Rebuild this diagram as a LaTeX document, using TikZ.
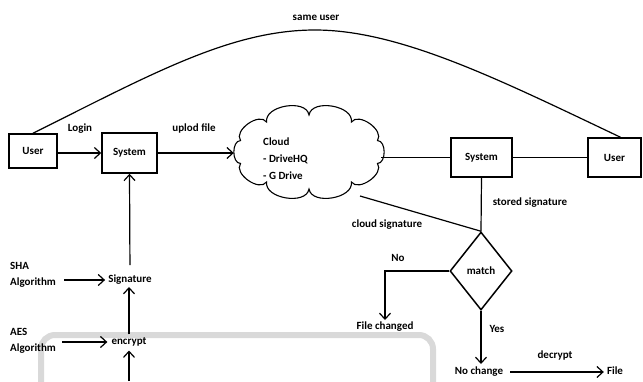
\documentclass[tikz,border=0pt]{standalone}
\usepackage{fontspec}
\setmainfont{Carlito}
\usetikzlibrary{arrows.meta,shapes.geometric}
\begin{document}
\begin{tikzpicture}[x=1pt,y=-1pt,
  font=\bfseries\fontsize{11}{13}\selectfont,
  box/.style={draw, line width=1.5pt, inner sep=0pt},
  conn/.style={line width=1.2pt},
  arr/.style={conn, -{Straight Barb[length=6pt,width=11pt,line width=1.2pt]}},
  lbl/.style={inner sep=0pt},
  frame/.style={draw=black!15, line width=6pt, rounded corners=14pt}]
\useasboundingbox (0,0) rectangle (643,381);

% faint page frame
\draw[frame] (41,390) -- (41,335) -- (433,335) -- (433,390);

% boxes
\node[box, minimum width=48pt, minimum height=34pt] (user1) at (33,151) {User};
\node[box, minimum width=55pt, minimum height=40pt] (sys1) at (129.5,153) {System};
\node[box, minimum width=61pt, minimum height=39pt] (sys2) at (481.5,157.5) {System};
\node[box, minimum width=53pt, minimum height=39pt] (user2) at (614.5,157.5) {User};

% cloud (outline of puffs, plus an invisible node for its anchors)
\node[ellipse, minimum width=148pt, minimum height=90pt, inner sep=0pt] (cloud) at (309,152) {};
\draw[conn, line width=1.1pt] ({309+72*cos(18)},{152-37*sin(18)})
  \foreach \i in {1,...,10} { to[bend right=90] ({309+72*cos(36*\i+18)},{152-37*sin(36*\i+18)}) } -- cycle;
\node[lbl, align=left, anchor=west, font=\bfseries\fontsize{11}{17}\selectfont] (cloudtxt) at (263,159) {Cloud\\- DriveHQ\\- G Drive};

\node[draw, diamond, line width=1.5pt, minimum width=62pt, minimum height=78pt, inner sep=0pt] (match) at (481,271) {match};

% labels
\node[lbl] (same) at (316,18) {same user};
\node[lbl] (login) at (80,129) {Login};
\node[lbl] (upload) at (194,128) {uplod file};
\node[lbl] (stored) at (530,203) {stored signature};
\node[lbl] (cloudsig) at (387,225) {cloud signature};
\node[lbl] (no) at (398,258) {No};
\node[lbl] (filechg) at (385,327) {File changed};
\node[lbl] (yes) at (497,329) {Yes};
\node[lbl] (nochg) at (479,372) {No change};
\node[lbl] (decrypt) at (555,355) {decrypt};
\node[lbl] (file) at (615,371) {File};
\node[lbl] (sig) at (130,280) {Signature};
\node[lbl, align=left, anchor=west, font=\bfseries\fontsize{11}{16}\selectfont] (sha) at (10,275) {SHA\\Algorithm};
\node[lbl] (enc) at (129,342) {encrypt};
\node[lbl, align=left, anchor=west, font=\bfseries\fontsize{11}{16}\selectfont] (aes) at (10,341) {AES\\Algorithm};

\coordinate (cs) at (360,196);
\coordinate (bot) at (129,381);
\coordinate (u2top) at ([xshift=6pt]user2.north);

% connectors
\draw[conn] (user1.north) .. controls (150,75) and (230,30) .. (315,30)
            .. controls (400,30) and (500,80) .. (u2top);
\draw[arr] (user1.east |- sys1.west) -- (sys1.west);
\draw[arr, shorten >=1pt] (sys1.east) -- (sys1.east -| cloud.west);
\draw[conn] ([xshift=-2pt]cloud.east |- sys2.west) -- (sys2.west);
\draw[conn] (sys2.east) -- (user2.west);
\draw[conn] (sys2.south) -- (match.north);
\draw[conn] (cs) -- (match.north);
\draw[arr, shorten >=2pt] (match.west) -- (match.west -| filechg.north) -- (filechg.north);
\draw[arr, shorten >=3pt] (match.south) -- (match.south |- nochg.north);
\draw[arr, shorten <=7pt, shorten >=3pt] (nochg.east) -- (nochg.east -| file.west);
\draw[arr, shorten <=8pt, shorten >=3pt] (sha.east |- sig.west) -- (sig.west);
\draw[arr, shorten <=6pt, shorten >=4pt] (aes.east |- enc.west) -- (enc.west);
\draw[arr, shorten <=3pt, shorten >=2pt] (enc.north) -- (sig.south -| enc.north);
\draw[arr, shorten <=10pt] (sig.north) -- (sys1.south);
\draw[arr, shorten >=4pt] (bot) -- (enc.south);
\end{tikzpicture}
\end{document}
